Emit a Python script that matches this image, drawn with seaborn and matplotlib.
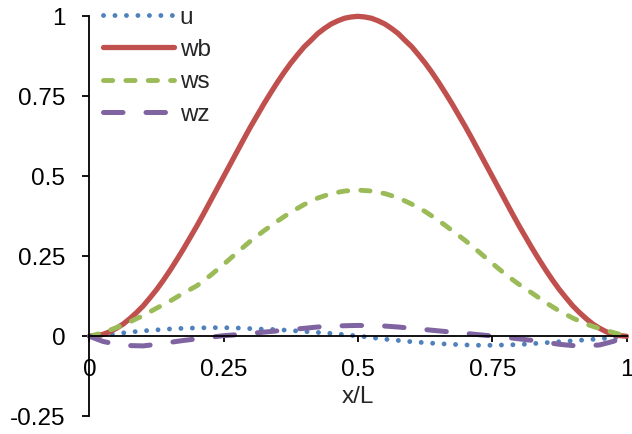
import matplotlib
matplotlib.use("Agg")
import matplotlib.pyplot as plt
import pandas as pd
import seaborn as sns

# Position along the beam, x/L
x_pos = [0.0, 0.025, 0.05, 0.075, 0.1, 0.125, 0.15, 0.175, 0.2, 0.225,
         0.25, 0.275, 0.3, 0.325, 0.35, 0.375, 0.4, 0.425, 0.45, 0.475,
         0.5, 0.525, 0.55, 0.575, 0.6, 0.625, 0.65, 0.675, 0.7, 0.725,
         0.75, 0.775, 0.8, 0.825, 0.85, 0.875, 0.9, 0.925, 0.95, 0.975, 1.0]

# Finer stations for the bending curve
x_fine = [0.0, 0.0125, 0.025, 0.0375, 0.05, 0.0625, 0.075, 0.0875, 0.1, 0.1125,
          0.125, 0.1375, 0.15, 0.1625, 0.175, 0.1875, 0.2, 0.2125, 0.225, 0.2375,
          0.25, 0.2625, 0.275, 0.2875, 0.3, 0.3125, 0.325, 0.3375, 0.35, 0.3625,
          0.375, 0.3875, 0.4, 0.4125, 0.425, 0.4375, 0.45, 0.4625, 0.475, 0.4875,
          0.5, 0.5125, 0.525, 0.5375, 0.55, 0.5625, 0.575, 0.5875, 0.6, 0.6125,
          0.625, 0.6375, 0.65, 0.6625, 0.675, 0.6875, 0.7, 0.7125, 0.725, 0.7375,
          0.75, 0.7625, 0.775, 0.7875, 0.8, 0.8125, 0.825, 0.8375, 0.85, 0.8625,
          0.875, 0.8875, 0.9, 0.9125, 0.925, 0.9375, 0.95, 0.9625, 0.975, 0.9875, 1.0]

# Axial displacement
u = [0.0, 0.004, 0.008, 0.013, 0.017, 0.020, 0.023, 0.025, 0.026, 0.027,
     0.027, 0.026, 0.024, 0.022, 0.021, 0.018, 0.015, 0.012, 0.009, 0.005,
     0.001, -0.004, -0.009, -0.013, -0.017, -0.020, -0.023, -0.025, -0.027, -0.028,
     -0.028, -0.027, -0.026, -0.023, -0.020, -0.017, -0.014, -0.011, -0.008, -0.004, 0.0]

# Bending deflection
wb = [0.0, 0.002, 0.006, 0.014, 0.025, 0.038, 0.055, 0.074, 0.095, 0.120,
      0.146, 0.175, 0.206, 0.239, 0.273, 0.309, 0.345, 0.383, 0.422, 0.461,
      0.5, 0.539, 0.578, 0.617, 0.655, 0.691, 0.727, 0.761, 0.794, 0.825,
      0.854, 0.880, 0.905, 0.925, 0.946, 0.962, 0.976, 0.986, 0.994, 0.998,
      1.0, 0.998, 0.994, 0.986, 0.976, 0.962, 0.946, 0.925, 0.905, 0.880,
      0.854, 0.825, 0.794, 0.761, 0.727, 0.691, 0.655, 0.617, 0.578, 0.539,
      0.5, 0.461, 0.422, 0.383, 0.345, 0.309, 0.273, 0.239, 0.206, 0.175,
      0.146, 0.120, 0.095, 0.074, 0.055, 0.038, 0.025, 0.014, 0.006, 0.002, 0.0]

# Shear deflection
ws = [0.0, 0.011, 0.027, 0.045, 0.065, 0.088, 0.110, 0.135, 0.158, 0.190,
      0.225, 0.262, 0.298, 0.330, 0.360, 0.388, 0.412, 0.432, 0.446, 0.454,
      0.457, 0.454, 0.446, 0.433, 0.413, 0.390, 0.362, 0.331, 0.299, 0.264,
      0.228, 0.193, 0.162, 0.134, 0.105, 0.079, 0.057, 0.038, 0.024, 0.012, 0.0]

# Transverse normal deflection
wz = [0.0, -0.016, -0.025, -0.029, -0.030, -0.025, -0.019, -0.013, -0.008, -0.003,
      0.002, 0.005, 0.009, 0.013, 0.017, 0.021, 0.025, 0.029, 0.032, 0.033,
      0.034, 0.033, 0.032, 0.029, 0.025, 0.021, 0.017, 0.013, 0.009, 0.005,
      0.001, -0.003, -0.008, -0.013, -0.019, -0.025, -0.029, -0.030, -0.027, -0.016, 0.0]

x_ticks = [0, 0.25, 0.5, 0.75, 1]
x_tick_labels = ["0", "0.25", "0.5", "0.75", "1"]
y_ticks = [-0.25, 0, 0.25, 0.5, 0.75, 1]
y_tick_labels = ["-0.25", "0", "0.25", "0.5", "0.75", "1"]

df = pd.DataFrame({"x/L": x_pos, "u": u, "ws": ws, "wz": wz})
df_wb = pd.DataFrame({"x/L": x_fine, "wb": wb})

sns.set_style("white")
plt.rcParams["font.family"] = ["Liberation Sans", "DejaVu Sans"]
plt.rcParams["lines.solid_joinstyle"] = "round"
plt.rcParams["lines.dash_joinstyle"] = "round"
FS = 17.5

fig = plt.figure(figsize=(6.32, 4.34), dpi=100)
ax = fig.add_axes([0.1416, 0.0408, 0.8497, 0.9216])

styles = {
    "u":  dict(color="#4F81BD", lw=3.5, dashes=(0.01, 2.35), dash_capstyle="round"),
    "wb": dict(color="#C0504D", lw=3.8, solid_capstyle="round"),
    "ws": dict(color="#9BBB59", lw=3.5, dashes=(1.9, 2.7), dash_capstyle="round"),
    "wz": dict(color="#8064A2", lw=3.6, dashes=(3.9, 4.6), dash_capstyle="round"),
}

for name in ["u", "wb", "ws", "wz"]:
    source = df_wb if name == "wb" else df
    sns.lineplot(data=source, x="x/L", y=name, ax=ax, label=name, clip_on=False,
                 **styles[name])

ax.set_xlim(0, 1)
ax.set_ylim(-0.25, 1)
ax.set_xticks(x_ticks)
ax.set_xticklabels(x_tick_labels)
ax.set_yticks(y_ticks)
ax.set_yticklabels(y_tick_labels)
ax.set_ylabel("")
ax.set_xlabel("x/L", fontsize=FS, labelpad=4)

for side in ["top", "right"]:
    ax.spines[side].set_visible(False)
ax.spines["bottom"].set_position(("data", 0))
for side in ["left", "bottom"]:
    ax.spines[side].set_color("black")
    ax.spines[side].set_linewidth(1.3)

ax.tick_params(axis="y", direction="out", length=5, width=1.3, pad=12.5,
               labelsize=FS, colors="black", left=True)
ax.tick_params(axis="x", direction="out", length=4, width=1.3, pad=12,
               labelsize=FS, colors="black", bottom=True)

handles, labels = ax.get_legend_handles_labels()
ax.legend(handles, labels, loc="upper left", bbox_to_anchor=(0.163, 0.985),
          bbox_transform=fig.transFigure, frameon=False, fontsize=FS,
          handlelength=2.9, handletextpad=0.25, labelspacing=0.43,
          borderpad=0, borderaxespad=0)

fig.savefig("out.png", dpi=100)
